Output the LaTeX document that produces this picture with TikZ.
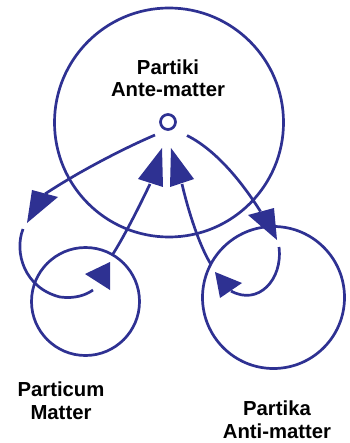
\documentclass[tikz,border=0pt]{standalone}
\usepackage{fontspec}
\setmainfont{Liberation Sans}
\definecolor{navy}{RGB}{46,49,146}
\begin{document}
\begin{tikzpicture}[x=1pt,y=-1pt,
  ring/.style={circle, draw=navy, line width=2.7pt, inner sep=0pt, outer sep=0pt},
  conn/.style={draw=navy, line width=2.7pt},
  head/.style={fill=navy},
  lbl/.style={font=\bfseries\fontsize{20.3}{22.5}\selectfont, align=center, anchor=base, text=black, inner sep=0pt}]
\useasboundingbox (0,0) rectangle (349,443);
% circles
\node[ring, minimum size=229pt] (big) at (169,122.5) {};
\node[ring, minimum size=15pt] (dot) at (168,122) {};
\node[ring, minimum size=108pt] (pL) at (85.5,301.5) {};
\node[ring, minimum size=142pt] (pR) at (273.5,297.5) {};
% labels (anchor = baseline of last line)
\node[lbl] (tA) at (168,97) {Partiki\\Ante-matter};
\node[lbl] (tL) at (61,419) {Particum\\Matter};
\node[lbl] (tR) at (277,438) {Partika\\Anti-matter};
% coordinates
\coordinate (sL) at (155,135);
\coordinate (aL) at (45,194);
\coordinate (sR) at (187,135.5);
\coordinate (aR) at (260.5,211.5);
\coordinate (lpS) at (23,229);
\coordinate (lpE) at (93,290);
\coordinate (rpS) at (279,247);
\coordinate (rpE) at (231,291);
\coordinate (bL) at (150,184);
\coordinate (bR) at (182,184);
% connectors
\draw[conn] (sL) .. controls (120,150) and (75,174) .. (aL);
\draw[conn] (sR) .. controls (220,152) and (247,190) .. (aR);
\draw[conn] (lpS) .. controls (14,252) and (24,288) .. (60,297) .. controls (75,299) and (86,295) .. (lpE);
\draw[conn] (rpS) .. controls (283,280) and (258,306) .. (rpE);
\draw[conn] (pL.60) .. controls (125,235) and (140,205) .. (bL);
\draw[conn] (pR.152) .. controls (199,245) and (188,210) .. (bR);
% arrowheads
\fill[head] (27,223) -- (32,190) -- (58,197) -- cycle;
\fill[head] (277,240) -- (248,215) -- (274,208) -- cycle;
\fill[head] (162,148) -- (138,179) -- (163,187) -- cycle;
\fill[head] (171,148) -- (170,187) -- (194,179) -- cycle;
\fill[head] (85,274) -- (110,262) -- (110,290) -- cycle;
\fill[head] (215,272) -- (220,298) -- (242,283) -- cycle;
\end{tikzpicture}
\end{document}
